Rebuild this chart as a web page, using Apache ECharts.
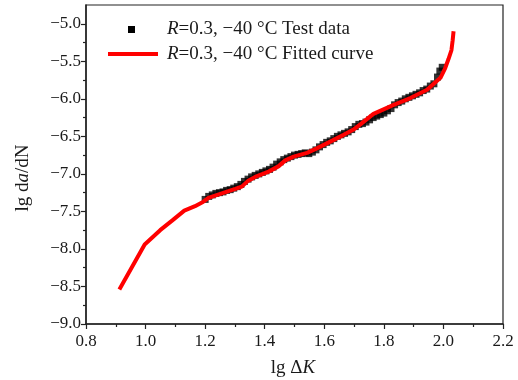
<!DOCTYPE html>
<html>
<head>
<meta charset="utf-8">
<script src="https://cdn.jsdelivr.net/npm/echarts@6/dist/echarts.min.js"></script>
<style>html,body{margin:0;padding:0;background:#fff}#c{width:518px;height:380px}</style>
</head>
<body>
<div id="c"></div>
<script>
// Test data (lg ΔK, lg da/dN)
var testX = [1.200,1.212,1.224,1.236,1.248,1.260,1.272,1.284,1.296,1.308,1.320,1.332,1.344,1.356,1.368,1.380,1.392,1.404,1.416,1.428,1.440,1.452,1.464,1.476,1.488,1.500,1.512,1.524,1.536,1.548,1.560,1.572,1.584,1.596,1.608,1.620,1.632,1.644,1.656,1.668,1.680,1.692,1.704,1.716,1.728,1.740,1.752,1.764,1.776,1.788,1.800,1.812,1.824,1.836,1.848,1.860,1.872,1.884,1.896,1.908,1.920,1.932,1.944,1.956,1.968,1.980,1.988,1.996];
var testY = [-7.34,-7.30,-7.28,-7.26,-7.25,-7.24,-7.22,-7.21,-7.19,-7.17,-7.14,-7.10,-7.07,-7.04,-7.02,-7.00,-6.98,-6.96,-6.94,-6.91,-6.87,-6.84,-6.81,-6.79,-6.77,-6.75,-6.74,-6.73,-6.72,-6.73,-6.71,-6.68,-6.64,-6.61,-6.58,-6.56,-6.53,-6.50,-6.48,-6.46,-6.44,-6.41,-6.37,-6.34,-6.33,-6.31,-6.28,-6.25,-6.23,-6.21,-6.19,-6.16,-6.13,-6.08,-6.05,-6.03,-6.00,-5.98,-5.96,-5.94,-5.92,-5.89,-5.87,-5.83,-5.80,-5.71,-5.63,-5.58];
// Fitted curve
var fitX = [0.912,0.997,1.049,1.090,1.130,1.166,1.194,1.211,1.256,1.301,1.323,1.345,1.368,1.413,1.446,1.469,1.497,1.542,1.575,1.620,1.665,1.698,1.721,1.765,1.833,1.889,1.945,1.990,2.006,2.017,2.027,2.031,2.034];
var fitY = [-8.54,-7.94,-7.75,-7.62,-7.49,-7.43,-7.37,-7.32,-7.26,-7.20,-7.17,-7.09,-7.04,-6.97,-6.90,-6.82,-6.77,-6.72,-6.66,-6.57,-6.48,-6.41,-6.34,-6.20,-6.08,-5.99,-5.88,-5.72,-5.59,-5.47,-5.35,-5.22,-5.10];
var yMajor = [-9.0,-8.5,-8.0,-7.5,-7.0,-6.5,-6.0,-5.5,-5.0];
var yMinor = [-8.75,-8.25,-7.75,-7.25,-6.75,-6.25,-5.75,-5.25];
var legendTest = '{i|R}=0.3, \u221240 \u00b0C Test data';
var legendFit = '{i|R}=0.3, \u221240 \u00b0C Fitted curve';

var FONT = "'Liberation Serif','Times New Roman',serif";
var TXT = '#1a1a1a';
var chart = echarts.init(document.getElementById('c'));
var testData = testX.map(function(x,i){return [x,testY[i]];});
var fitData = fitX.map(function(x,i){return [x,fitY[i]];});
var rich = {i:{fontStyle:'italic',fontFamily:FONT,fontSize:19,fill:TXT,color:TXT}};
chart.setOption({
  animation:false,
  grid:{left:86,top:5,right:15,bottom:56,show:true,borderColor:'#222',borderWidth:1.2,backgroundColor:'transparent'},
  xAxis:{type:'value',min:0.8,max:2.2,interval:0.2,
    axisLine:{lineStyle:{color:'#222',width:1.5}},
    axisTick:{length:5,lineStyle:{color:'#222',width:1.2}},
    minorTick:{show:true,splitNumber:2,length:3,lineStyle:{color:'#222',width:1.2}},
    splitLine:{show:false},
    axisLabel:{fontFamily:FONT,fontSize:17,color:TXT,margin:9,formatter:function(v){return v.toFixed(1);}}},
  yAxis:[{type:'value',min:-9,max:-4.75,interval:0.5,
    axisLine:{show:true,lineStyle:{color:'#222',width:1.5}},
    axisTick:{length:5,customValues:yMajor,lineStyle:{color:'#222',width:1.2}},
    splitLine:{show:false},
    axisLabel:{fontFamily:FONT,fontSize:17,color:TXT,margin:5,customValues:yMajor,
      formatter:function(v){return (v<0?'\u2212':'')+Math.abs(v).toFixed(1);}}},
    {type:'value',min:-9,max:-4.75,position:'left',
    axisLine:{show:false},
    axisTick:{show:true,length:3,customValues:yMinor,lineStyle:{color:'#222',width:1.2}},
    axisLabel:{show:false},splitLine:{show:false}}],
  series:[
    {type:'scatter',name:'test',data:testData,symbol:'rect',symbolSize:7,itemStyle:{color:'#000'},z:2},
    {type:'line',name:'fit',data:fitData,showSymbol:false,smooth:false,lineStyle:{color:'#ff0000',width:4},z:3}
  ],
  graphic:[
    {type:'rect',shape:{x:128,y:26,width:7,height:7},style:{fill:'#000'}},
    {type:'line',shape:{x1:108,y1:54,x2:158,y2:54},style:{stroke:'#ff0000',lineWidth:4}},
    {type:'text',x:167,y:29,style:{text:legendTest,rich:rich,fontFamily:FONT,fontSize:19,fill:TXT,verticalAlign:'middle'}},
    {type:'text',x:167,y:54,style:{text:legendFit,rich:rich,fontFamily:FONT,fontSize:19,fill:TXT,verticalAlign:'middle'}},
    {type:'text',x:293,y:368,style:{text:'lg \u0394{i|K}',rich:rich,fontFamily:FONT,fontSize:19,fill:TXT,align:'center',verticalAlign:'middle'}},
    {type:'text',x:23,y:178,rotation:Math.PI/2,style:{text:'lg d{i|a}/dN',rich:rich,fontFamily:FONT,fontSize:19,fill:TXT,align:'center',verticalAlign:'middle'}}
  ]
});
</script>
</body>
</html>
